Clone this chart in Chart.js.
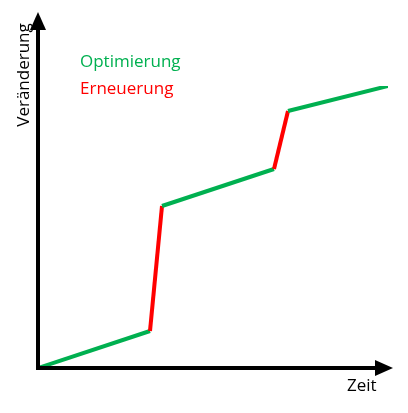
<!DOCTYPE html>
<html>
<head>
<script src="https://cdn.jsdelivr.net/npm/chart.js@4"></script>
<style>html,body{margin:0;padding:0;background:#fff}#wrap{width:408px;height:413px}</style>
</head>
<body>
<div id="wrap"><canvas id="c"></canvas></div>
<script>
// time (x) and change (y) values along the path
const zeit = [0, 112, 124, 236, 250, 350];
const veraenderung = [0, 37, 162, 199, 257, 282];
// kind of each segment: O = Optimierung, E = Erneuerung
const phasen = ['O', 'E', 'O', 'E', 'O'];

const GREEN = '#00B050', RED = '#FF0000';

const axes = {
  id: 'axes',
  afterDraw(chart) {
    const ctx = chart.ctx, a = chart.chartArea;
    const x0 = a.left, y0 = a.bottom;
    ctx.save();
    ctx.strokeStyle = '#000'; ctx.fillStyle = '#000'; ctx.lineWidth = 4;
    ctx.beginPath(); ctx.moveTo(x0, y0 + 2); ctx.lineTo(x0, 28); ctx.stroke();
    ctx.beginPath(); ctx.moveTo(x0 - 2, y0); ctx.lineTo(378, y0); ctx.stroke();
    ctx.beginPath(); ctx.moveTo(x0, 12); ctx.lineTo(x0 - 8, 30); ctx.lineTo(x0 + 8, 30); ctx.closePath(); ctx.fill();
    ctx.beginPath(); ctx.moveTo(393, y0); ctx.lineTo(375, y0 - 8); ctx.lineTo(375, y0 + 8); ctx.closePath(); ctx.fill();
    ctx.font = '17px "Open Sans"';
    ctx.textBaseline = 'middle';
    ctx.fillText('Zeit', 347, 386);
    ctx.fillStyle = GREEN; ctx.fillText('Optimierung', 80, 62);
    ctx.fillStyle = RED; ctx.fillText('Erneuerung', 80, 89);
    ctx.fillStyle = '#000';
    ctx.translate(24, 75); ctx.rotate(-Math.PI / 2);
    ctx.textAlign = 'center';
    ctx.fillText('Veränderung', 0, 0);
    ctx.restore();
  }
};

new Chart(document.getElementById('c'), {
  type: 'line',
  data: {
    datasets: [{
      data: zeit.map((x, i) => ({ x: x, y: veraenderung[i] })),
      borderWidth: 4,
      pointRadius: 0,
      borderColor: GREEN,
      segment: { borderColor: c => phasen[c.p0DataIndex] === 'E' ? RED : GREEN }
    }]
  },
  options: {
    responsive: true, maintainAspectRatio: false, animation: false,
    layout: { padding: { left: 38, right: 20, top: 86, bottom: 45 } },
    plugins: { legend: { display: false }, tooltip: { enabled: false } },
    scales: {
      x: { type: 'linear', min: 0, max: 350, display: false },
      y: { min: 0, max: 282, display: false }
    }
  },
  plugins: [axes]
});
</script>
</body>
</html>
